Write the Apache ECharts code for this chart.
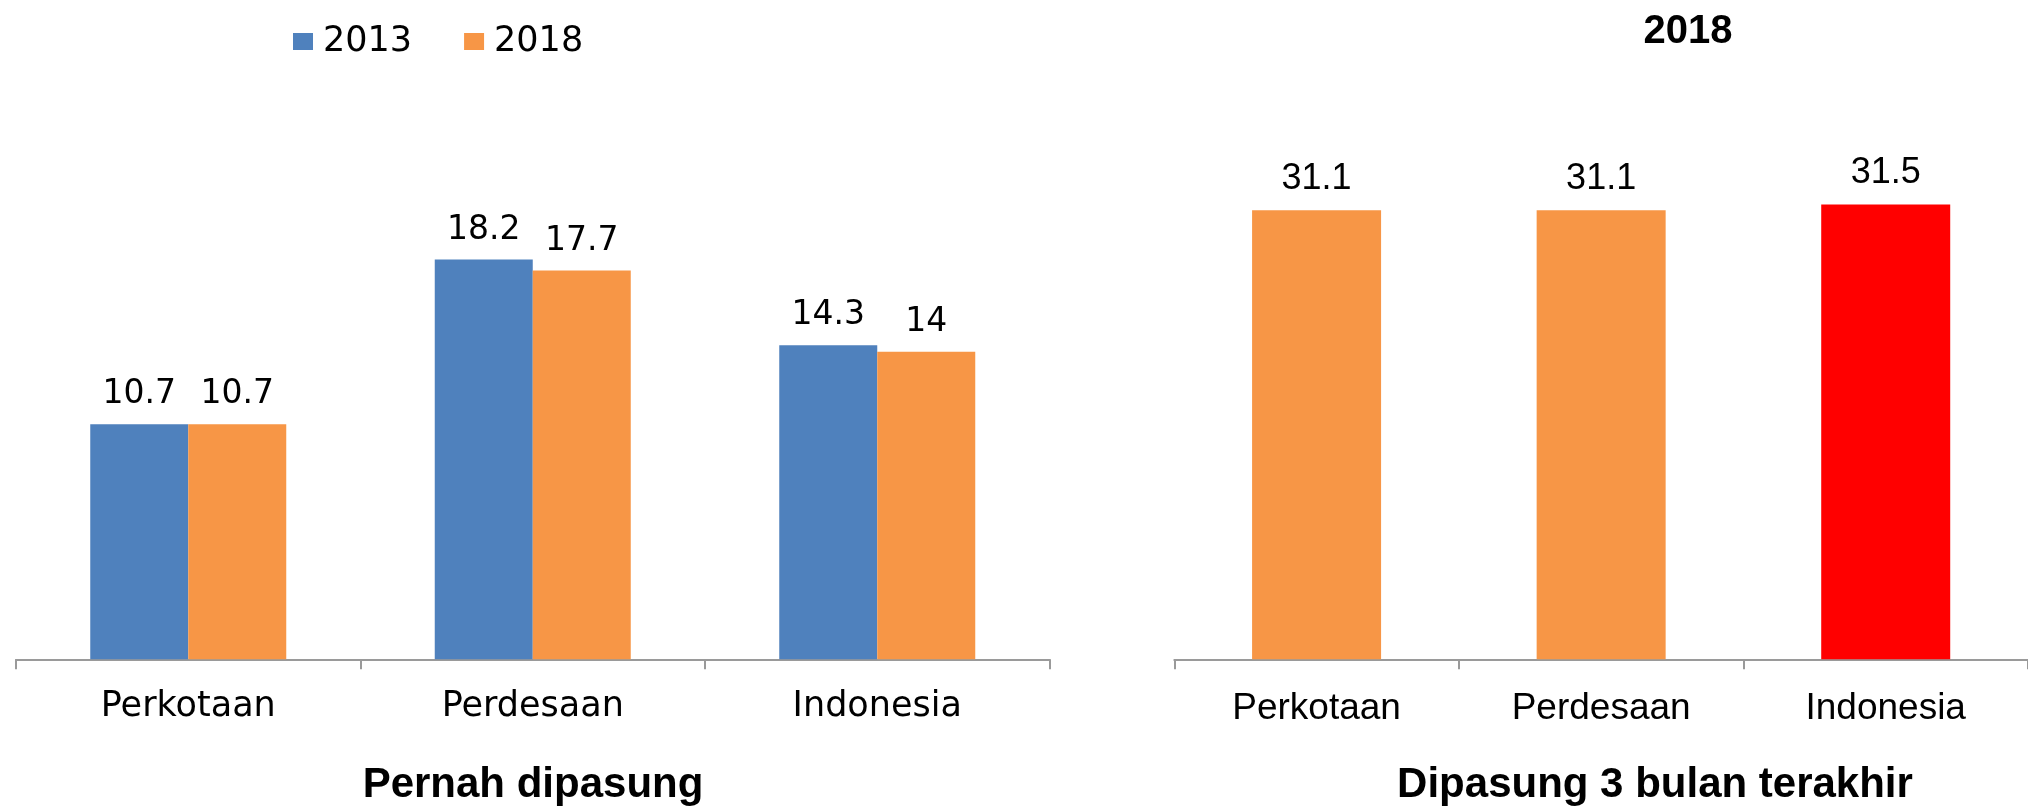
<!DOCTYPE html>
<html>
<head>
<meta charset="utf-8">
<script src="https://cdn.jsdelivr.net/npm/echarts@6/dist/echarts.min.js"></script>
<style>
  html, body { margin: 0; padding: 0; background: #ffffff; }
  #chart { width: 2028px; height: 806px; }
</style>
</head>
<body>
<div id="chart"></div>
<script>
// ---- data ----
const categories = ['Perkotaan', 'Perdesaan', 'Indonesia'];
const seriesNames = ['2013', '2018'];
const pernah2013 = [10.7, 18.2, 14.3];
const pernah2018 = [10.7, 17.7, 14];
const dipasung2018 = [31.1, 31.1, 31.5];
const highlightCategory = 'Indonesia';
const leftTitle = 'Pernah dipasung';
const rightTitle = 'Dipasung 3 bulan terakhir';
const rightYearTitle = '2018';

// ---- styles ----
const BLUE = '#4F81BD';
const ORANGE = '#F79646';
const RED = '#FF0000';
const AXIS_GRAY = '#9a9a9a';
const LEFT_FONT = '"DejaVu Sans", sans-serif';
const RIGHT_FONT = '"Liberation Sans", Arial, sans-serif';

const chart = echarts.init(document.getElementById('chart'), null, { renderer: 'canvas' });

const axisCommon = {
  type: 'category',
  data: categories,
  axisLine: { show: true, lineStyle: { color: AXIS_GRAY, width: 2 } },
  axisTick: { show: true, length: 10, lineStyle: { color: AXIS_GRAY, width: 2 } },
  splitLine: { show: false }
};

const option = {
  backgroundColor: '#ffffff',
  animation: false,
  legend: {
    data: seriesNames,
    left: 293,
    top: 24,
    padding: 0,
    itemWidth: 20,
    itemHeight: 17,
    itemGap: 52,
    icon: 'rect',
    textStyle: { fontFamily: LEFT_FONT, fontSize: 35, color: '#000', padding: [0, 0, 0, 5] }
  },
  grid: [
    { left: 16, right: 978.5, top: 219.9, bottom: 146.7, containLabel: false },
    { left: 1174.3, right: -2.8, top: 153.9, bottom: 146.7, containLabel: false }
  ],
  xAxis: [
    Object.assign({}, axisCommon, {
      gridIndex: 0,
      axisLabel: { interval: 0, margin: 30, color: '#000', fontFamily: LEFT_FONT, fontSize: 35 }
    }),
    Object.assign({}, axisCommon, {
      gridIndex: 1,
      axisLabel: { interval: 0, margin: 31, color: '#000', fontFamily: RIGHT_FONT, fontSize: 37 }
    })
  ],
  yAxis: [
    { type: 'value', gridIndex: 0, min: 0, max: 20, show: false },
    { type: 'value', gridIndex: 1, min: 0, max: 35, show: false }
  ],
  series: [
    {
      name: seriesNames[0], type: 'bar', xAxisIndex: 0, yAxisIndex: 0,
      data: pernah2013, barWidth: 98, barGap: '0%',
      itemStyle: { color: BLUE },
      label: { show: true, position: 'top', distance: 13, color: '#000', fontFamily: LEFT_FONT, fontSize: 33 }
    },
    {
      name: seriesNames[1], type: 'bar', xAxisIndex: 0, yAxisIndex: 0,
      data: pernah2018, barWidth: 98, barGap: '0%',
      itemStyle: { color: ORANGE },
      label: { show: true, position: 'top', distance: 13, color: '#000', fontFamily: LEFT_FONT, fontSize: 33 }
    },
    {
      name: rightTitle, type: 'bar', xAxisIndex: 1, yAxisIndex: 1,
      data: dipasung2018, barWidth: 129,
      itemStyle: { color: function (p) { return p.name === highlightCategory ? RED : ORANGE; } },
      label: { show: true, position: 'top', distance: 13, color: '#000', fontFamily: RIGHT_FONT, fontSize: 36 }
    }
  ],
  graphic: [
    {
      type: 'text', x: 533, y: 785, silent: true,
      style: { text: leftTitle, fill: '#000', font: 'bold 42px "Liberation Sans", Arial, sans-serif',
               align: 'center', verticalAlign: 'middle', textAlign: 'center', textVerticalAlign: 'middle' }
    },
    {
      type: 'text', x: 1655, y: 785, silent: true,
      style: { text: rightTitle, fill: '#000', font: 'bold 42px "Liberation Sans", Arial, sans-serif',
               align: 'center', verticalAlign: 'middle', textAlign: 'center', textVerticalAlign: 'middle' }
    },
    {
      type: 'text', x: 1688, y: 32, silent: true,
      style: { text: rightYearTitle, fill: '#000', font: 'bold 40px "Liberation Sans", Arial, sans-serif',
               align: 'center', verticalAlign: 'middle', textAlign: 'center', textVerticalAlign: 'middle' }
    }
  ]
};

chart.setOption(option);
</script>
</body>
</html>
